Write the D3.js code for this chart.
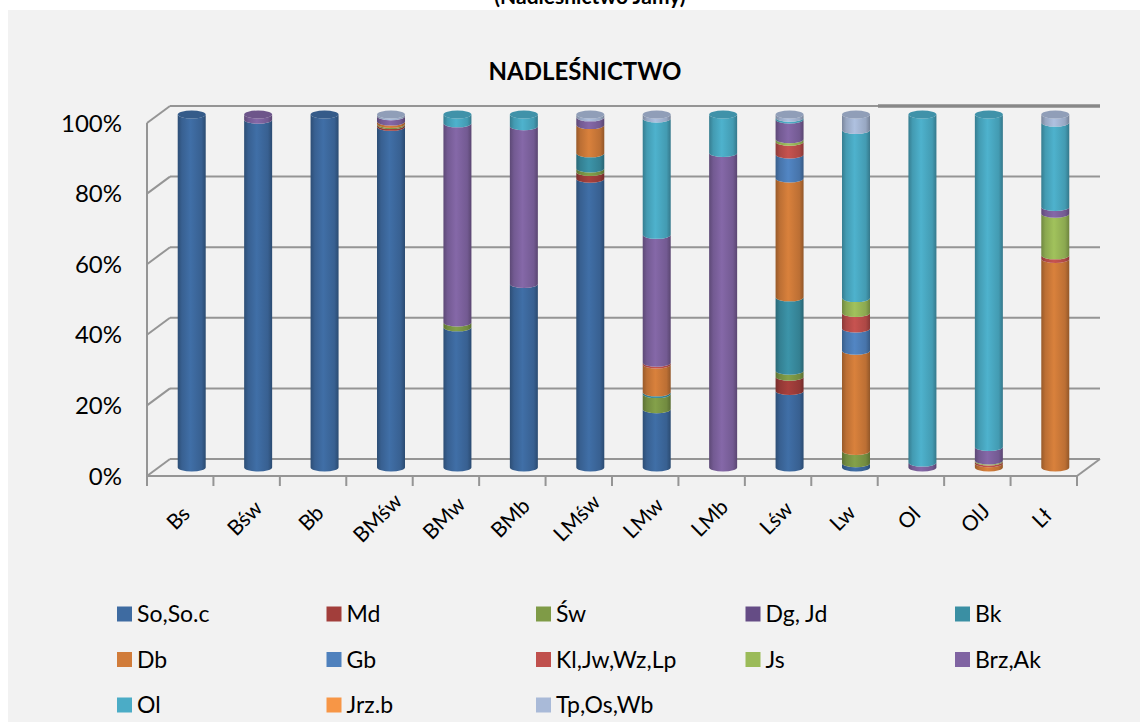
<!DOCTYPE html>
<html>
<head>
<meta charset="utf-8">
<script src="https://cdn.jsdelivr.net/npm/d3@7"></script>
<style>
  body { margin: 0; background: #fff; }
  svg text { font-family: Lato, 'Open Sans', sans-serif; fill: #000; }
</style>
</head>
<body>
<svg id="chart" width="1146" height="722"></svg>
<script>
// categories (site types)
const categories = ['Bs', 'Bśw', 'Bb', 'BMśw', 'BMw', 'BMb', 'LMśw', 'LMw', 'LMb', 'Lśw', 'Lw', 'Ol', 'OlJ', 'Lł'];

// series names + colours
const seriesNames = ['So,So.c', 'Md', 'Św', 'Dg, Jd', 'Bk', 'Db', 'Gb', 'Kl,Jw,Wz,Lp', 'Js', 'Brz,Ak', 'Ol', 'Jrz.b', 'Tp,Os,Wb'];
const seriesColors = ['#3e6ba1', '#a23e3b', '#7f9b47', '#654c85', '#3a8fa3', '#d17c3a', '#4f81bd', '#c0504d', '#9bbb59', '#8064a2', '#4bacc6', '#f79646', '#a9bad8'];

// share (%) per category, one array per series
const soSoc = [100, 98.5, 100, 96.5, 39.7, 52.0, 81.8, 16.5, 0, 21.7, 1.2, 0, 0, 0];
const md    = [0, 0, 0, 0.5, 0, 0, 1.9, 0, 0, 4.0, 0, 0, 0, 0];
const sw    = [0, 0, 0, 0.3, 1.4, 0, 1.0, 4.3, 0, 1.7, 3.5, 0, 0, 0];
const dgJd  = [0, 0, 0, 0, 0, 0, 0, 0, 0, 0, 0, 0, 0, 0];
const bk    = [0, 0, 0, 0, 0, 0, 4.3, 0.5, 0, 20.8, 0, 0, 0, 0];
const db    = [0, 0, 0, 0.7, 0, 0, 8.0, 7.9, 0, 33.7, 28.4, 0, 1.2, 59.1];
const gb    = [0, 0, 0, 0, 0, 0, 0, 0, 0, 6.8, 6.3, 0, 0, 0];
const klJw  = [0, 0, 0, 0, 0, 0, 0, 0.5, 0, 3.6, 4.4, 0, 0.5, 1.0];
const js    = [0, 0, 0, 0, 0, 0, 0, 0, 0, 0.7, 4.2, 0, 0.3, 11.8];
const brzAk = [0, 1.5, 0, 1.5, 56.4, 44.7, 2.2, 36.2, 89.1, 5.6, 0, 1.4, 3.8, 1.9];
const ol    = [0, 0, 0, 0, 2.5, 3.3, 0, 33.0, 10.9, 0.5, 47.6, 98.6, 94.2, 23.9];
const jrzB  = [0, 0, 0, 0, 0, 0, 0, 0, 0, 0, 0, 0, 0, 0];
const tpOs  = [0, 0, 0, 0.5, 0, 0, 0.8, 1.1, 0, 0.9, 4.4, 0, 0, 2.3];

const seriesValues = [soSoc, md, sw, dgJd, bk, db, gb, klJw, js, brzAk, ol, jrzB, tpOs];
const yTicks = [0, 0.2, 0.4, 0.6, 0.8, 1];

// rows for d3.stack
let rows = categories.map(function (c, i) {
  let r = { cat: c };
  seriesNames.forEach(function (s, k) { r[s] = seriesValues[k][i]; });
  return r;
});
let stacked = d3.stack().keys(seriesNames).offset(d3.stackOffsetExpand)(rows);

const svg = d3.select('#chart');

// background panel
svg.append('rect').attr('x', 8).attr('y', 10).attr('width', 1132).attr('height', 712).attr('fill', '#f2f2f2');

// titles
svg.append('text').attr('x', 590).attr('y', 4).attr('text-anchor', 'middle')
  .style('font-size', '21px').style('font-weight', 'bold').text('(Nadleśnictwo Jamy)');
svg.append('text').attr('x', 585).attr('y', 80).attr('text-anchor', 'middle')
  .style('font-size', '24px').style('font-weight', 'bold').text('NADLEŚNICTWO');

// 3d frame: front plane + depth offset
let frontLeft = 147, frontRight = 1077;
let depthX = 23, depthY = -17;
let x = d3.scaleBand().domain(categories).range([frontLeft, frontRight]);
let yFront = d3.scaleLinear().domain([0, 1]).range([476, 123]);
let yBar = function (v) { return yFront(v) + depthY / 2; };

let grid = svg.append('g');
let lineColor = '#959595';

yTicks.forEach(function (t) {
  let yb = yFront(t) + depthY;
  // back wall
  grid.append('line')
    .attr('x1', frontLeft + depthX).attr('x2', frontRight + depthX)
    .attr('y1', yb).attr('y2', yb)
    .attr('stroke', lineColor).attr('stroke-width', 2);
  // side wall
  grid.append('line')
    .attr('x1', frontLeft).attr('x2', frontLeft + depthX)
    .attr('y1', yFront(t)).attr('y2', yb)
    .attr('stroke', lineColor).attr('stroke-width', 2);
});
// darker part of top line
grid.append('line')
  .attr('x1', 878).attr('x2', frontRight + depthX)
  .attr('y1', yFront(1) + depthY).attr('y2', yFront(1) + depthY)
  .attr('stroke', '#888').attr('stroke-width', 3.5);

// left axis line
grid.append('line')
  .attr('x1', frontLeft).attr('x2', frontLeft)
  .attr('y1', yFront(1)).attr('y2', yFront(0))
  .attr('stroke', lineColor).attr('stroke-width', 2);
// floor front + right edge
grid.append('line')
  .attr('x1', frontLeft).attr('x2', frontRight)
  .attr('y1', yFront(0)).attr('y2', yFront(0))
  .attr('stroke', lineColor).attr('stroke-width', 2);
grid.append('line')
  .attr('x1', frontRight).attr('x2', frontRight + depthX)
  .attr('y1', yFront(0)).attr('y2', yFront(0) + depthY)
  .attr('stroke', lineColor).attr('stroke-width', 2);

// category ticks
let tickXs = categories.map(function (c) { return x(c); }).concat([frontRight]);
tickXs.forEach(function (tx) {
  grid.append('line')
    .attr('x1', tx).attr('x2', tx)
    .attr('y1', yFront(0)).attr('y2', yFront(0) + 10)
    .attr('stroke', lineColor).attr('stroke-width', 2);
});

// y labels
svg.append('g').selectAll('text').data(yTicks).enter().append('text')
  .attr('x', 122).attr('y', function (d) { return yFront(d); })
  .attr('dy', '0.36em').attr('text-anchor', 'end')
  .style('font-size', '24px')
  .text(function (d) { return d3.format('.0%')(d); });

// x labels
svg.append('g').selectAll('text').data(categories).enter().append('text')
  .attr('transform', function (d) {
    return 'translate(' + (x(d) + x.bandwidth() / 2 - 2) + ',' + 518 + ') rotate(-45)';
  })
  .attr('text-anchor', 'middle')
  .attr('dy', '0.35em')
  .style('font-size', '21px')
  .text(function (d) { return d; });

// gradients for cylinder shading
let defs = svg.append('defs');
seriesColors.forEach(function (c, k) {
  let g = defs.append('linearGradient').attr('id', 'grad' + k)
    .attr('x1', '0%').attr('x2', '100%').attr('y1', '0%').attr('y2', '0%');
  let base = d3.color(c);
  g.append('stop').attr('offset', '0%').attr('stop-color', base.darker(0.9));
  g.append('stop').attr('offset', '15%').attr('stop-color', base.darker(0.3));
  g.append('stop').attr('offset', '45%').attr('stop-color', base.brighter(0.1));
  g.append('stop').attr('offset', '85%').attr('stop-color', base.darker(0.3));
  g.append('stop').attr('offset', '100%').attr('stop-color', base.darker(1.0));
});

// cylinders
let rx = 14, ry = 4;
let bars = svg.append('g');

function segPath(cx, yb, yt) {
  return 'M' + (cx - rx) + ',' + yt +
    ' A' + rx + ',' + ry + ' 0 0 0 ' + (cx + rx) + ',' + yt +
    ' L' + (cx + rx) + ',' + yb +
    ' A' + rx + ',' + ry + ' 0 0 1 ' + (cx - rx) + ',' + yb + ' Z';
}

categories.forEach(function (c, i) {
  let cx = x(c) + x.bandwidth() / 2 + depthX / 2;
  let topIdx = -1;
  stacked.forEach(function (layer, k) {
    let d = layer[i];
    if (d[1] - d[0] <= 0) return;
    topIdx = k;
    bars.append('path')
      .attr('d', segPath(cx, yBar(d[0]), yBar(d[1])))
      .attr('fill', 'url(#grad' + k + ')');
  });
  if (topIdx >= 0) {
    bars.append('ellipse')
      .attr('cx', cx).attr('cy', yBar(1))
      .attr('rx', rx).attr('ry', ry)
      .attr('fill', d3.color(seriesColors[topIdx]).darker(0.45));
  }
});

// legend
let legend = svg.append('g');
seriesNames.forEach(function (s, k) {
  let col = k % 5, row = Math.floor(k / 5);
  let lx = 117 + col * 209.5, ly = 614 + row * 45.5;
  legend.append('rect').attr('x', lx).attr('y', ly - 7.5)
    .attr('width', 15).attr('height', 15).attr('fill', seriesColors[k]);
  legend.append('text').attr('x', lx + 20).attr('y', ly)
    .attr('dy', '0.36em').style('font-size', '23px').text(s);
});
</script>
</body>
</html>
